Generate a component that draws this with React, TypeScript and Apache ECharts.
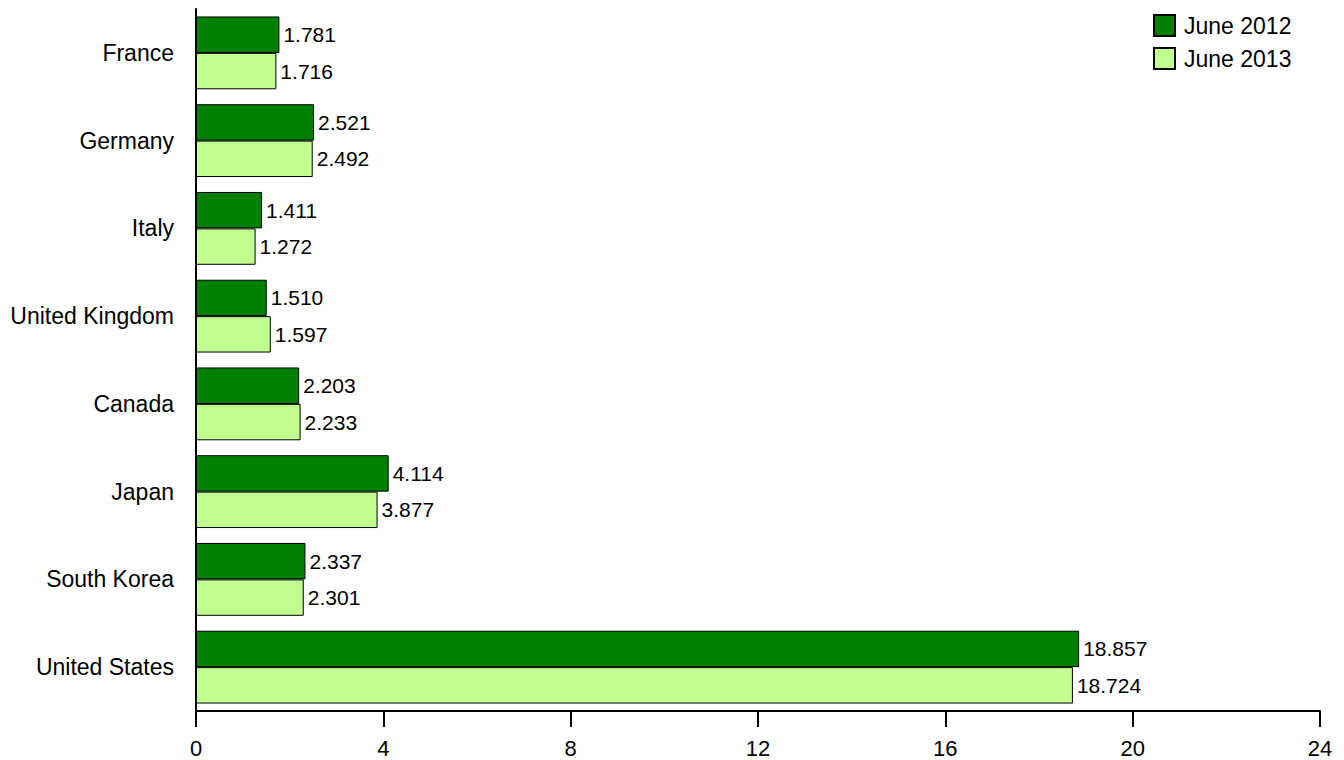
import React, { useEffect, useRef } from "react";
import * as echarts from "echarts";

const countries = ["France", "Germany", "Italy", "United Kingdom", "Canada", "Japan", "South Korea", "United States"];
const june2012 = [1.781, 2.521, 1.411, 1.51, 2.203, 4.114, 2.337, 18.857];
const june2013 = [1.716, 2.492, 1.272, 1.597, 2.233, 3.877, 2.301, 18.724];
const seriesNames = ["June 2012", "June 2013"];
const xTicks = [0, 4, 8, 12, 16, 20, 24];

const FONT = "'Liberation Sans', Arial, sans-serif";

export default function App() {
  const ref = useRef<HTMLDivElement>(null);
  useEffect(() => {
    if (!ref.current) return;
    const chart = echarts.init(ref.current, undefined, { renderer: "svg" });
    const label = {
      show: true,
      position: "right" as const,
      distance: 4,
      color: "#000",
      fontSize: 21,
      fontFamily: FONT,
      formatter: (p: any) => Number(p.value).toFixed(3),
    };
    chart.setOption({
      animation: false,
      textStyle: { fontFamily: FONT },
      legend: {
        orient: "vertical",
        left: 1148,
        top: 9,
        itemWidth: 21,
        itemHeight: 21,
        itemGap: 10,
        icon: "rect",
        textStyle: { fontSize: 23, color: "#000", fontFamily: FONT, padding: [0, 0, 0, 4] },
        data: seriesNames,
      },
      grid: { left: 196, right: 24, top: 9, bottom: 49, containLabel: false },
      xAxis: {
        type: "value",
        min: xTicks[0],
        max: xTicks[xTicks.length - 1],
        interval: 4,
        splitLine: { show: false },
        axisLine: { show: true, lineStyle: { color: "#000", width: 2 } },
        axisTick: { show: true, length: 16, lineStyle: { color: "#000", width: 2 } },
        axisLabel: { color: "#000", fontSize: 22, fontFamily: FONT, margin: 26 },
      },
      yAxis: {
        type: "category",
        data: countries,
        inverse: true,
        axisLine: { show: true, lineStyle: { color: "#000", width: 2 } },
        axisTick: { show: false },
        axisLabel: { color: "#000", fontSize: 23, fontFamily: FONT, margin: 22 },
      },
      series: [
        {
          name: seriesNames[0],
          type: "bar",
          data: june2012,
          barGap: "0%",
          barCategoryGap: "17%",
          itemStyle: { color: "#008000", borderColor: "#000", borderWidth: 1 },
          label,
        },
        {
          name: seriesNames[1],
          type: "bar",
          data: june2013,
          itemStyle: { color: "#C0FF90", borderColor: "#000", borderWidth: 1 },
          label,
        },
      ],
    });
    return () => chart.dispose();
  }, []);
  return <div ref={ref} style={{ width: 1344, height: 760, position: "absolute", left: 0, top: 0 }} />;
}
